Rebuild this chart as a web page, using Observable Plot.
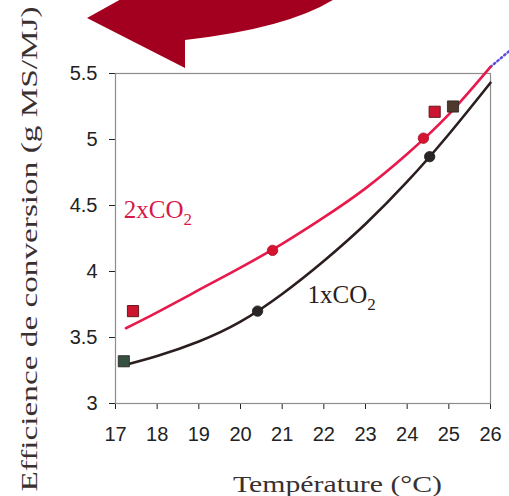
<!DOCTYPE html>
<html><head><meta charset="utf-8">
<script src="https://cdn.jsdelivr.net/npm/d3@7"></script>
<script src="https://cdn.jsdelivr.net/npm/@observablehq/plot@0.6"></script>
<style>
body{margin:0;background:#fff}
#wrap{position:relative;width:509px;height:496px;overflow:hidden}
#arrow{position:absolute;left:0;top:0;pointer-events:none}
</style>
</head><body><div id="wrap"></div>
<script>
// ---- data ----
const xTicks = [17, 18, 19, 20, 21, 22, 23, 24, 25, 26];
const yTicks = [3, 3.5, 4, 4.5, 5, 5.5];

// 1xCO2 observations
const temp1 = [17.2, 20.41, 24.54, 25.1];
const eff1  = [3.32, 3.70, 4.87, 5.25];
const sym1  = ["square", "circle", "circle", "square"];
// 2xCO2 observations
const temp2 = [17.42, 20.77, 24.39, 24.66];
const eff2  = [3.70, 4.16, 5.01, 5.21];
const sym2  = ["square", "circle", "circle", "square"];

// fitted curves
const curveT1 = [17.2, 18, 19, 20, 21, 22, 23, 24, 25, 26];
const curveE1 = [3.29, 3.36, 3.47, 3.62, 3.83, 4.08, 4.36, 4.68, 5.04, 5.43];
const curveT2 = [17.25, 18, 19, 20, 21, 22, 23, 24, 25, 26];
const curveE2 = [3.57, 3.69, 3.86, 4.03, 4.21, 4.41, 4.63, 4.89, 5.19, 5.55];
// dotted extension beyond the frame
const extT = [26, 26.45];
const extE = [5.55, 5.67];

const seriesLabels = ["1xCO", "2xCO"];
const xLabel = "Température (°C)";
const yLabel = "Efficience de conversion (g MS/MJ)";

// ---- build tables ----
const obs1 = temp1.map((t, i) => ({t, e: eff1[i], s: sym1[i], i}));
const obs2 = temp2.map((t, i) => ({t, e: eff2[i], s: sym2[i], i}));
const c1 = curveT1.map((t, i) => ({t, e: curveE1[i]}));
const c2 = curveT2.map((t, i) => ({t, e: curveE2[i]}));
const ext = extT.map((t, i) => ({t, e: extE[i]}));

const RED = "#e8194b", DARK = "#2b1e1e";
const squareFill1 = ["#34503f", "", "", "#4d3a2c"];

const chart = Plot.plot({
  width: 509, height: 496,
  marginLeft: 115, marginRight: 19, marginTop: 73, marginBottom: 93,
  style: {fontFamily: "'Liberation Sans', Arial, sans-serif", fontSize: "20px", color: "#222", background: "#fff"},
  x: {domain: [17, 26], ticks: xTicks, tickSize: 6, tickPadding: 17, label: null, tickFormat: d => String(d)},
  y: {domain: [3, 5.5], ticks: yTicks, tickSize: 6, tickPadding: 12, label: null, tickFormat: d => String(d)},
  marks: [
    Plot.frame({stroke: "#8c8c8c", strokeWidth: 1.2}),
    Plot.line(ext, {x: "t", y: "e", stroke: "#5a4fe0", strokeWidth: 2.5, strokeDasharray: "1.5,3"}),
    Plot.line(c1, {x: "t", y: "e", stroke: DARK, strokeWidth: 2.6, curve: "natural"}),
    Plot.line(c2, {x: "t", y: "e", stroke: RED, strokeWidth: 2.6, curve: "natural"}),
    Plot.dot(obs1.filter(d => d.s === "circle"), {x: "t", y: "e", r: 5.2, fill: "#2a2626", stroke: "#1a1a1a", strokeWidth: 0.8}),
    Plot.dot(obs1.filter(d => d.s === "square"), {x: "t", y: "e", symbol: "square", r: 6.3, fill: d => squareFill1[d.i], stroke: "#2a2020", strokeWidth: 0.8}),
    Plot.dot(obs2.filter(d => d.s === "circle"), {x: "t", y: "e", r: 5.2, fill: "#d6142f", stroke: "#a30f25", strokeWidth: 0.8}),
    Plot.dot(obs2.filter(d => d.s === "square"), {x: "t", y: "e", symbol: "square", r: 6.3, fill: "#cc1530", stroke: "#5a1010", strokeWidth: 0.9})
  ]
});

const svg = d3.select(chart);
const sx = chart.scale("x"), sy = chart.scale("y");

// axis titles
svg.append("text")
  .attr("x", 337.5).attr("y", 492)
  .attr("text-anchor", "middle")
  .attr("font-family", "'Liberation Serif', 'Times New Roman', serif")
  .attr("font-size", 24).attr("fill", "#3a3030")
  .attr("textLength", 209).attr("lengthAdjust", "spacingAndGlyphs")
  .text(xLabel);
svg.append("text")
  .attr("transform", "translate(37,249) rotate(-90)")
  .attr("text-anchor", "middle")
  .attr("font-family", "'Liberation Serif', 'Times New Roman', serif")
  .attr("font-size", 23).attr("fill", "#3a3030")
  .attr("textLength", 485).attr("lengthAdjust", "spacingAndGlyphs")
  .text(yLabel);

// series labels with subscript
function seriesLabel(txt, xv, yv, color) {
  const t = svg.append("text")
    .attr("x", sx.apply(xv)).attr("y", sy.apply(yv))
    .attr("font-family", "'Liberation Serif', 'Times New Roman', serif")
    .attr("font-size", 25).attr("fill", color);
  t.append("tspan").text(txt);
  t.append("tspan").attr("font-size", 17).attr("dy", 7).text("2");
}
seriesLabel(seriesLabels[1], 18.03, 4.40, "#d8184a");
seriesLabel(seriesLabels[0], 22.44, 3.755, "#2a2020");

const wrap = document.getElementById("wrap");
wrap.appendChild(chart);

// decorative curved arrow at the top
const arrow = d3.create("svg").attr("id", "arrow").attr("width", 509).attr("height", 120);
arrow.append("path")
  .attr("d", "M87,18 L123,-2 L336,-2 Q290,28 185,40 L185,68 Z")
  .attr("fill", "#a3001f");
wrap.appendChild(arrow.node());
</script>
</body></html>
